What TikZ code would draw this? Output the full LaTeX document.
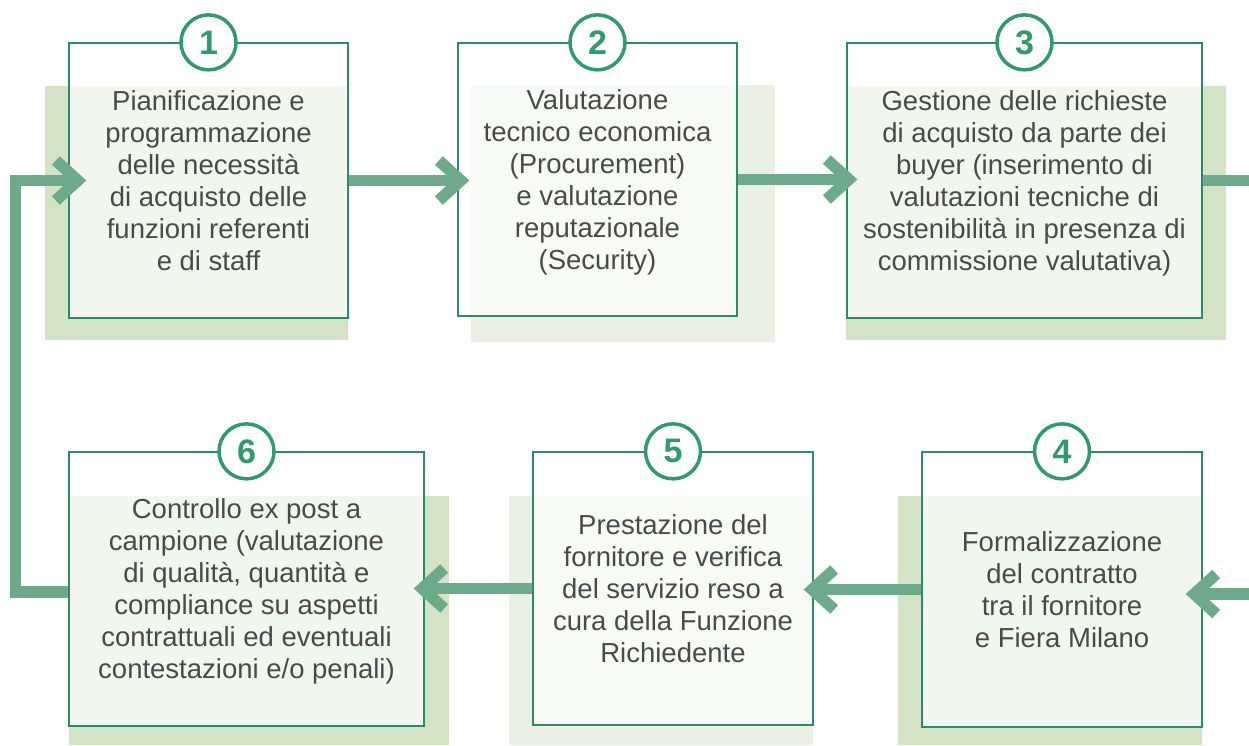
\documentclass[tikz,border=0pt]{standalone}
\usepackage{fontspec}
\setmainfont{Liberation Sans}
\usetikzlibrary{arrows.meta,calc}
\definecolor{boxline}{HTML}{2E8B67}
\definecolor{circgreen}{HTML}{2F9A6E}
\definecolor{arrowgreen}{HTML}{6DAA8A}
\definecolor{shdark}{HTML}{D3E3C6}
\definecolor{shlight}{HTML}{EAF1E2}
\definecolor{txt}{HTML}{4A4A4A}
\newcommand\nodepthline[1]{\raisebox{0pt}[\height][0pt]{#1}}
\begin{document}
\begin{tikzpicture}[x=1pt,y=-1pt,
  stepbox/.style={draw=boxline, line width=1.3pt, fill=white, fill opacity=0.7, draw opacity=1, text opacity=1,
    rectangle, inner sep=0pt, align=center, text=txt, font=\fontsize{27.5}{32}\selectfont},
  numcirc/.style={circle, draw=circgreen, line width=3.5pt, fill=white, minimum size=55pt, inner sep=0pt,
    text=circgreen, font=\fontsize{34}{34}\selectfont\bfseries},
  conn/.style={draw=arrowgreen, line width=11.5pt, line join=miter, -{Straight Barb[length=22pt,width=40pt]}},
  plainconn/.style={draw=arrowgreen, line width=11.5pt, line join=miter}
]
\useasboundingbox (0,0) rectangle (1249,745);
% shadows
\fill[shdark] (45,86) rectangle (348,340);
\fill[shlight] (471,85) rectangle (775,342);
\fill[shdark] (846,86) rectangle (1226,340);
\fill[shdark] (69,496) rectangle (449,745);
\fill[shlight] (509,496) rectangle (813,745);
\fill[shdark] (898,496) rectangle (1202,745);
% boxes
\node[stepbox, minimum width=279pt, minimum height=275pt] (b1) at (208.5,180.5)
  {Pianificazione e\\programmazione\\delle necessità\\di acquisto delle\\funzioni referenti\\e di staff};
\node[stepbox, minimum width=279pt, minimum height=273pt] (b2) at (597.5,179.5)
  {Valutazione\\tecnico economica\\(Procurement)\\e valutazione\\reputazionale\\\nodepthline{(Security)}};
\node[stepbox, minimum width=355pt, minimum height=275pt] (b3) at (1024.5,180.5)
  {Gestione delle richieste\\di acquisto da parte dei\\buyer (inserimento di\\valutazioni tecniche di\\sostenibilità in presenza di\\\nodepthline{commissione valutativa)}};
\node[stepbox, minimum width=280pt, minimum height=275pt] (b4) at (1062,589.5)
  {Formalizzazione\\del contratto\\tra il fornitore\\e Fiera Milano};
\node[stepbox, minimum width=280pt, minimum height=273pt] (b5) at (673,588.5)
  {Prestazione del\\fornitore e verifica\\del servizio reso a\\cura della Funzione\\Richiedente};
\node[stepbox, minimum width=355pt, minimum height=274pt] (b6) at (246.5,589)
  {Controllo ex post a\\campione (valutazione\\di qualità, quantità e\\compliance su aspetti\\contrattuali ed eventuali\\\nodepthline{contestazioni e/o penali)}};
% number circles
\node[numcirc] (n1) at (b1.north) {1};
\node[numcirc] (n2) at (b2.north) {2};
\node[numcirc] (n3) at (b3.north) {3};
\node[numcirc] (n4) at (b4.north) {4};
\node[numcirc] (n5) at (b5.north) {5};
\node[numcirc] (n6) at (b6.north) {6};
% connectors
\coordinate (out3) at (1249,181);
\coordinate (in4) at (1249,594);
\coordinate (ret) at (15.5,592);
\draw[conn] (b1.east) -- ($(b1.east -| b2.west)+(12,0)$);
\draw[conn] (b2.east) -- ($(b2.east -| b3.west)+(11,0)$);
\draw[plainconn] (b3.east) -- (b3.east -| out3);
\draw[conn] (in4) -- ($(in4 -| b4.east)+(-17,0)$);
\draw[conn] (b4.west) -- ($(b4.west -| b5.east)+(-10,0)$);
\draw[conn] (b5.west) -- ($(b5.west -| b6.east)+(-11,0)$);
\draw[conn] (b6.west |- ret) -- (ret) |- ($(b1.west)+(18,0)$);
\end{tikzpicture}
\end{document}
